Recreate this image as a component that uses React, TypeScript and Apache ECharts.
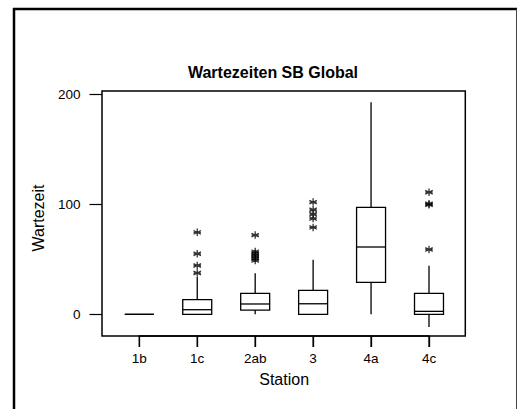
import React, { useEffect, useRef } from "react";
import * as echarts from "echarts";

const categories = ["1b", "1c", "2ab", "3", "4a", "4c"];
// [min, Q1, median, Q3, max]
const boxValues = [
  [0, 0, 0, 0, 0],
  [0, 0, 4.2, 13.3, 34],
  [0, 3.9, 9.4, 19.1, 37.3],
  [0, 0, 9.6, 21.8, 49.6],
  [0, 29.1, 61.2, 97.3, 192.7],
  [-11.5, 0, 2.7, 19.1, 44.2],
];
const outliers1c = [74.5, 55, 44.4, 37.5];
const outliers2ab = [72, 57, 55, 53, 51, 49];
const outliers3 = [102, 95, 91, 87, 79];
const outliers4c = [111, 100.5, 99.5, 59];
const yTickValues = [0, 100, 200];
const Y_MIN = -19.7;
const Y_MAX = 203;

const outlierGroups: [string, number[]][] = [
  ["1c", outliers1c],
  ["2ab", outliers2ab],
  ["3", outliers3],
  ["4c", outliers4c],
];

const FONT = "'Liberation Sans', Arial, sans-serif";

export default function App() {
  const ref = useRef<HTMLDivElement>(null);
  useEffect(() => {
    if (!ref.current) return;
    const chart = echarts.init(ref.current, undefined, { renderer: "svg" });
    const outlierData: [string, number][] = [];
    outlierGroups.forEach(([c, vals]) => vals.forEach((v) => outlierData.push([c, v])));
    const boxData = boxValues.map((b, i) => [i, ...b]);
    const lineStyle = { stroke: "#000", lineWidth: 1.3, fill: "none" };
    const baseGraphics: any[] = [
      {
        id: "frame",
        type: "rect",
        shape: { x: 102, y: 91, width: 363.3, height: 245 },
        style: { fill: "none", stroke: "#000", lineWidth: 1.5 },
        silent: true,
      },
      {
        id: "bl",
        type: "line",
        shape: { x1: 14, y1: 8, x2: 14, y2: 409 },
        style: { stroke: "#000", lineWidth: 2.5 },
        silent: true,
      },
      {
        id: "bt",
        type: "line",
        shape: { x1: 13, y1: 9, x2: 517, y2: 9 },
        style: { stroke: "#000", lineWidth: 2.5 },
        silent: true,
      },
      {
        id: "br",
        type: "line",
        shape: { x1: 516.5, y1: 9, x2: 516.5, y2: 409 },
        style: { stroke: "#444", lineWidth: 1 },
        silent: true,
      },
      {
        id: "yname",
        type: "text",
        x: 38,
        y: 218,
        rotation: Math.PI / 2,
        style: {
          text: "Wartezeit",
          fontSize: 16,
          fontFamily: FONT,
          fill: "#000",
          align: "center",
          verticalAlign: "middle",
        },
        silent: true,
      },
    ];
    chart.setOption({
      animation: false,
      backgroundColor: "#ffffff",
      textStyle: { fontFamily: FONT },
      title: {
        text: "Wartezeiten SB Global",
        left: 268,
        top: 59,
        textAlign: "center",
        textStyle: { fontFamily: FONT, fontSize: 16, fontWeight: "bold", color: "#000" },
      },
      grid: { left: 139.3, top: 91, width: 289.7, height: 245 },
      xAxis: {
        type: "category",
        data: categories,
        boundaryGap: false,
        position: "bottom",
        axisLine: { show: true, onZero: false, lineStyle: { color: "#000", width: 1.5 } },
        axisTick: { show: true, interval: 0, inside: false, length: 11, lineStyle: { color: "#000", width: 1.3 } },
        axisLabel: { margin: 15, interval: 0, fontSize: 13.5, color: "#000", fontFamily: FONT },
        splitLine: { show: false },
        name: "Station",
        nameLocation: "middle",
        nameGap: 35.5,
        nameTextStyle: { fontSize: 16, color: "#000", fontFamily: FONT },
      },
      yAxis: {
        type: "value",
        min: Y_MIN,
        max: Y_MAX,
        offset: 37.3,
        axisLine: { show: false, onZero: false },
        axisTick: { show: true, inside: false, length: 12.5, customValues: yTickValues, lineStyle: { color: "#000", width: 1.2 } },
        axisLabel: { margin: 21.5, fontSize: 13.5, color: "#000", fontFamily: FONT, customValues: yTickValues },
        splitLine: { show: false },
      },
      graphic: baseGraphics,
      series: [
        {
          type: "custom",
          data: boxData,
          encode: { x: 0, y: [1, 2, 3, 4, 5] },
          clip: false,
          renderItem: (params: any, api: any) => {
            const xi = api.value(0);
            const pMin = api.coord([xi, api.value(1)]);
            const pQ1 = api.coord([xi, api.value(2)]);
            const pMed = api.coord([xi, api.value(3)]);
            const pQ3 = api.coord([xi, api.value(4)]);
            const pMax = api.coord([xi, api.value(5)]);
            const p0 = api.coord([0, 0]);
            const p1 = api.coord([1, 0]);
            const half = Math.abs(p1[0] - p0[0]) * 0.25;
            const cx = pMed[0];
            const children: any[] = [];
            if (pMin[1] !== pQ1[1]) {
              children.push({ type: "line", shape: { x1: cx, y1: pQ1[1], x2: cx, y2: pMin[1] }, style: lineStyle });
            }
            if (pMax[1] !== pQ3[1]) {
              children.push({ type: "line", shape: { x1: cx, y1: pQ3[1], x2: cx, y2: pMax[1] }, style: lineStyle });
            }
            children.push({
              type: "polygon",
              shape: {
                points: [
                  [cx - half, pQ1[1]],
                  [cx + half, pQ1[1]],
                  [cx + half, pQ3[1]],
                  [cx - half, pQ3[1]],
                ],
              },
              style: { stroke: "#000", lineWidth: 1.3, fill: "#fff" },
            });
            children.push({
              type: "line",
              shape: { x1: cx - half, y1: pMed[1], x2: cx + half, y2: pMed[1] },
              style: lineStyle,
            });
            return { type: "group", children };
          },
          silent: true,
        },
        {
          type: "scatter",
          data: outlierData,
          symbol: "path://M5,0 L5,10 M0.67,2.5 L9.33,7.5 M0.67,7.5 L9.33,2.5 M0.8,5 L9.2,5",
          symbolSize: 7.5,
          itemStyle: { color: "none", borderColor: "#000", borderWidth: 1.3 },
          emphasis: { disabled: true },
          silent: true,
        },
      ],
    });
    // x-axis ticks as thin filled rects positioned through the axis scale
    const tickGraphics = categories.map((c, i) => {
      const p = chart.convertToPixel({ xAxisIndex: 0, yAxisIndex: 0 }, [i, Y_MIN]) as number[];
      const px = p && isFinite(p[0]) ? p[0] : 0;
      const py = p && isFinite(p[1]) ? p[1] : 0;
      return {
        id: "xt" + i,
        type: "rect",
        z: 100,
        shape: { x: px - 0.65, y: py, width: 1.3, height: 11 },
        style: { fill: "#000", stroke: "none" },
        silent: true,
      };
    });
    chart.setOption({ graphic: [...baseGraphics, ...tickGraphics] });
    return () => chart.dispose();
  }, []);
  return (
    <div
      ref={ref}
      style={{ position: "fixed", left: 0, top: 0, width: 518, height: 409 }}
    />
  );
}
